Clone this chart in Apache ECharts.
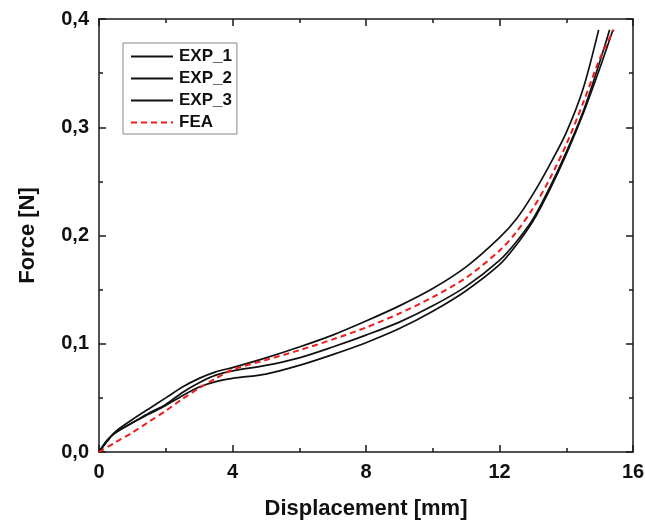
<!DOCTYPE html>
<html>
<head>
<meta charset="utf-8">
<script src="https://cdn.jsdelivr.net/npm/echarts@6/dist/echarts.min.js"></script>
<style>
  html, body { margin: 0; padding: 0; background: #fff; }
  #chart { width: 645px; height: 523px; }
</style>
</head>
<body>
<div id="chart"></div>
<script>
// displacement [mm] / force [N]
const exp1X = [0, 0.25, 0.5, 1, 1.5, 2, 2.5, 3, 3.5, 4, 5, 6, 7, 8, 9, 10, 11, 12, 12.5, 13, 13.5, 14, 14.5, 14.97];
const exp1Y = [0, 0.010, 0.019, 0.030, 0.040, 0.050, 0.060, 0.068, 0.074, 0.078, 0.087, 0.097, 0.108, 0.121, 0.135, 0.151, 0.171, 0.198, 0.215, 0.238, 0.265, 0.295, 0.335, 0.390];

const exp2X = [0, 0.25, 0.5, 1, 1.5, 2, 2.5, 3, 3.5, 4, 5, 6, 7, 8, 9, 10, 11, 12, 12.5, 13, 13.5, 14, 14.5, 15, 15.3];
const exp2Y = [0, 0.011, 0.018, 0.027, 0.036, 0.044, 0.055, 0.064, 0.071, 0.075, 0.080, 0.087, 0.097, 0.108, 0.120, 0.135, 0.153, 0.177, 0.194, 0.215, 0.244, 0.277, 0.314, 0.360, 0.390];

const exp3X = [0, 0.25, 0.5, 1, 1.5, 2, 2.5, 3, 3.5, 4, 5, 6, 7, 8, 9, 10, 11, 12, 12.5, 13, 13.5, 14, 14.5, 15, 15.4];
const exp3Y = [0, 0.011, 0.018, 0.027, 0.035, 0.043, 0.052, 0.060, 0.065, 0.068, 0.072, 0.080, 0.090, 0.101, 0.114, 0.130, 0.149, 0.173, 0.191, 0.213, 0.242, 0.275, 0.312, 0.354, 0.390];

const feaX = [0, 0.5, 1, 1.5, 2, 2.5, 3, 3.5, 4, 5, 6, 7, 8, 9, 10, 11, 12, 12.5, 13, 13.5, 14, 14.5, 15, 15.42];
const feaY = [0, 0.009, 0.018, 0.028, 0.038, 0.049, 0.059, 0.068, 0.076, 0.085, 0.094, 0.104, 0.115, 0.128, 0.143, 0.161, 0.186, 0.203, 0.225, 0.252, 0.284, 0.322, 0.363, 0.390];

const xTicks = [0, 4, 8, 12, 16];
const yTicks = [0, 0.1, 0.2, 0.3, 0.4];

const pairs = (xs, ys) => xs.map((x, i) => [x, ys[i]]);

const FONT = '"Liberation Sans", Arial, sans-serif';
const AXIS_COLOR = '#1a1a1a';

const chart = echarts.init(document.getElementById('chart'));

const tickStyle = { inside: true, length: 7, lineStyle: { color: AXIS_COLOR, width: 1.5 } };
const minorStyle = { show: true, splitNumber: 2, length: 4, lineStyle: { color: AXIS_COLOR, width: 1.5 } };

const expLine = (name, xs, ys) => ({
  name,
  type: 'line',
  data: pairs(xs, ys),
  smooth: 0.3,
  symbol: 'none',
  lineStyle: { color: '#111', width: 1.7 },
  itemStyle: { color: '#111' },
});

chart.setOption({
  backgroundColor: '#fff',
  animation: false,
  grid: { left: 99, right: 12, top: 19, bottom: 71, containLabel: false, outerBoundsMode: 'none' },
  legend: {
    orient: 'vertical',
    left: 123,
    top: 43,
    padding: [5, 5, 3, 7],
    itemWidth: 42,
    itemHeight: 14,
    itemGap: 5,
    backgroundColor: '#fff',
    borderColor: '#888',
    borderWidth: 1,
    borderRadius: 0,
    itemStyle: { opacity: 0 },
    textStyle: { fontFamily: FONT, fontWeight: 'bold', fontSize: 17, color: '#111', padding: [0, 0, 0, 1] },
    data: ['EXP_1', 'EXP_2', 'EXP_3', 'FEA'],
  },
  xAxis: [
    {
      type: 'value',
      min: 0,
      max: 16,
      interval: 4,
      name: 'Displacement [mm]',
      nameLocation: 'middle',
      nameGap: 46,
      nameTextStyle: { fontFamily: FONT, fontWeight: 'bold', fontSize: 22, color: '#111' },
      axisLine: { show: true, lineStyle: { color: AXIS_COLOR, width: 1.5 } },
      axisTick: tickStyle,
      minorTick: minorStyle,
      splitLine: { show: false },
      axisLabel: {
        margin: 10,
        fontFamily: FONT, fontWeight: 'bold', fontSize: 20, color: '#111',
        formatter: (v) => (xTicks.includes(v) ? String(v) : ''),
      },
    },
    {
      type: 'value',
      position: 'top',
      min: 0,
      max: 16,
      interval: 4,
      axisLine: { show: true, onZero: false, lineStyle: { color: AXIS_COLOR, width: 1.5 } },
      axisTick: tickStyle,
      minorTick: minorStyle,
      splitLine: { show: false },
      axisLabel: { show: false },
    },
  ],
  yAxis: [
    {
      type: 'value',
      min: 0,
      max: 0.4,
      interval: 0.1,
      name: 'Force [N]',
      nameLocation: 'middle',
      nameGap: 60,
      nameTextStyle: { fontFamily: FONT, fontWeight: 'bold', fontSize: 22, color: '#111' },
      axisLine: { show: true, lineStyle: { color: AXIS_COLOR, width: 1.5 } },
      axisTick: tickStyle,
      minorTick: minorStyle,
      splitLine: { show: false },
      axisLabel: {
        margin: 10,
        fontFamily: FONT, fontWeight: 'bold', fontSize: 20, color: '#111',
        formatter: (v) => {
          const t = yTicks.find((y) => Math.abs(y - v) < 1e-6);
          return t === undefined ? '' : t.toFixed(1).replace('.', ',');
        },
      },
    },
    {
      type: 'value',
      position: 'right',
      min: 0,
      max: 0.4,
      interval: 0.1,
      axisLine: { show: true, onZero: false, lineStyle: { color: AXIS_COLOR, width: 1.5 } },
      axisTick: tickStyle,
      minorTick: minorStyle,
      splitLine: { show: false },
      axisLabel: { show: false },
    },
  ],
  series: [
    expLine('EXP_1', exp1X, exp1Y),
    expLine('EXP_2', exp2X, exp2Y),
    expLine('EXP_3', exp3X, exp3Y),
    {
      name: 'FEA',
      type: 'line',
      data: pairs(feaX, feaY),
      smooth: 0.3,
      symbol: 'none',
      z: 3,
      lineStyle: { color: '#ee1c1c', width: 2, type: [6, 4] },
      itemStyle: { color: '#ee1c1c' },
    },
  ],
});
</script>
</body>
</html>
